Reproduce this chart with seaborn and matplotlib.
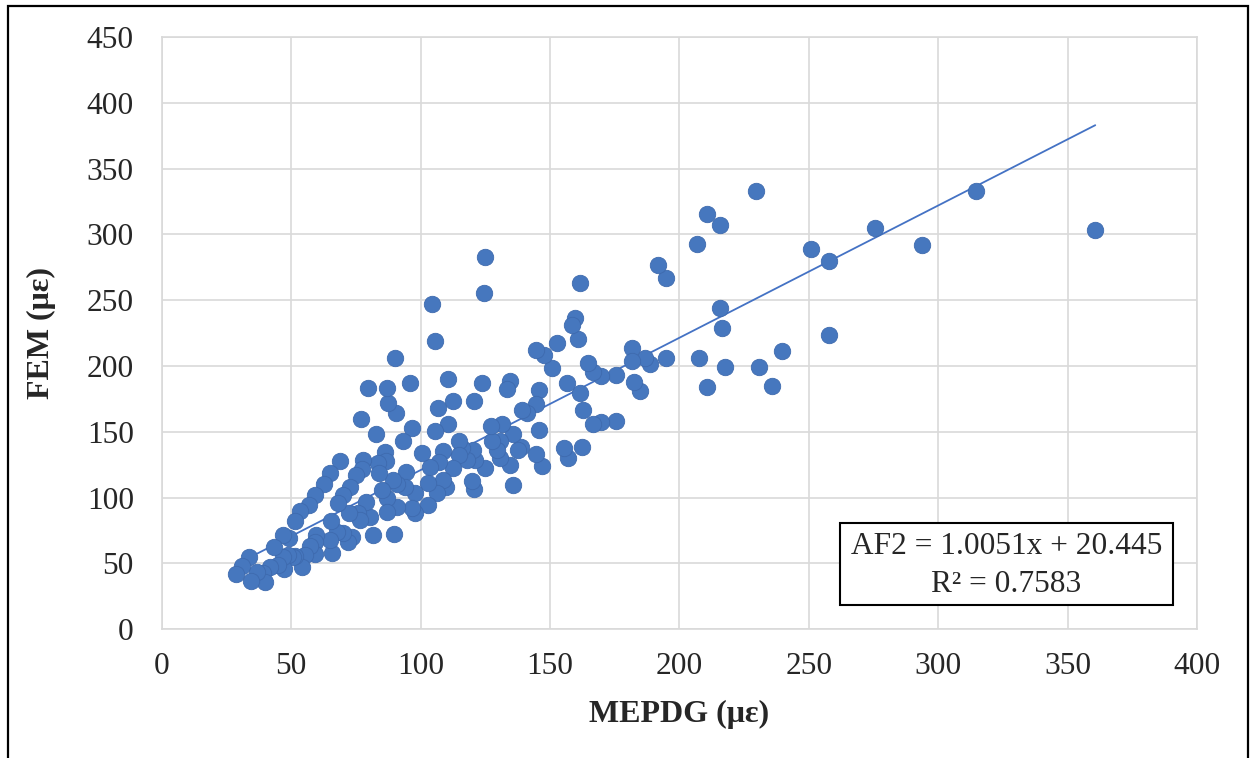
import matplotlib
matplotlib.use("Agg")
import matplotlib.pyplot as plt
import seaborn as sns
import numpy as np
import pandas as pd
from matplotlib.patches import Rectangle

# MEPDG strain (x) and FEM strain (y)
mepdg = [360.7, 314.8, 293.8, 275.7, 257.7, 257.7, 250.8, 239.7, 235.8, 230.8,
         229.8, 217.8, 216.6, 215.7, 215.7, 210.8, 210.8, 207.7, 206.8, 194.7,
         191.8, 194.7, 188.8, 186.7, 184.6, 182.6, 181.7, 181.6, 175.7, 175.7,
         169.7, 169.7, 166.8, 166.7, 164.6, 162.8, 162.5, 161.6, 161.6, 160.7,
         159.7, 158.7, 156.9, 156.6, 155.6, 152.6, 150.7, 147.7, 146.8, 145.8,
         145.8, 144.7, 144.5, 144.5, 141.0, 139.1, 138.7, 137.8, 135.9, 135.9,
         134.7, 133.5, 134.6, 131.6, 130.7, 130.7, 129.4, 127.5, 127.4, 124.9,
         124.7, 123.8, 121.1, 120.7, 120.7, 120.2, 119.8, 118.0, 115.9, 114.8,
         114.7, 112.7, 112.7, 110.7, 110.7, 109.7, 108.8, 108.6, 107.0, 106.6,
         106.3, 105.6, 105.6, 104.6, 103.7, 102.8, 102.8, 100.7, 97.9, 97.9,
         96.6, 96.6, 95.9, 94.4, 94.0, 93.4, 91.0, 90.8, 90.5, 90.1,
         89.7, 89.5, 87.6, 86.9, 86.9, 86.9, 86.3, 86.7, 85.0, 83.7,
         84.1, 82.8, 81.8, 80.5, 79.6, 79.0, 77.9, 77.5, 77.0, 76.0,
         76.6, 75.0, 73.4, 72.7, 72.3, 72.1, 70.2, 70.2, 68.8, 68.2,
         67.6, 65.5, 65.7, 65.0, 65.0, 62.6, 59.6, 59.2, 59.2, 59.2,
         57.3, 57.0, 55.4, 54.1, 53.4, 51.5, 51.5, 50.9, 49.2, 48.9,
         47.3, 47.0, 46.7, 45.1, 43.2, 41.8, 39.3, 39.9, 36.7, 34.4,
         33.8, 30.9, 28.6, 125.0]
fem = [303.6, 333.0, 292.2, 304.7, 280.0, 223.8, 288.7, 211.2, 185.1, 199.1,
       332.8, 199.1, 229.1, 243.9, 306.9, 315.8, 184.3, 206.4, 292.7, 267.1,
       276.8, 206.1, 201.8, 206.4, 181.0, 188.1, 214.0, 203.8, 193.2, 158.5,
       192.4, 157.7, 195.3, 155.7, 202.3, 166.8, 138.7, 263.1, 179.8, 220.8,
       236.7, 231.0, 130.1, 186.9, 138.0, 217.7, 198.5, 208.2, 124.3, 181.6,
       151.6, 133.4, 212.2, 171.0, 164.1, 166.6, 138.7, 136.2, 148.2, 109.9,
       188.9, 182.6, 124.8, 156.0, 143.1, 129.9, 136.2, 143.0, 154.7, 122.8,
       255.7, 186.9, 128.6, 173.5, 106.4, 136.2, 112.7, 128.5, 137.5, 143.1,
       132.5, 173.5, 122.3, 190.4, 156.0, 108.3, 113.4, 135.2, 127.0, 168.4,
       103.3, 219.0, 150.4, 246.9, 123.5, 111.0, 94.4, 133.7, 103.3, 88.1,
       152.9, 91.9, 187.4, 119.3, 108.3, 143.1, 110.2, 93.1, 164.1, 205.9,
       72.2, 113.4, 172.2, 183.6, 100.0, 89.3, 134.9, 128.1, 105.8, 126.1,
       118.7, 148.4, 71.6, 85.0, 183.6, 97.0, 128.6, 122.0, 160.0, 88.7,
       83.0, 117.2, 70.4, 108.3, 88.0, 66.6, 102.0, 72.9, 128.0, 96.3,
       74.2, 82.0, 57.7, 67.8, 118.8, 110.2, 71.6, 102.0, 66.6, 57.0,
       63.4, 94.4, 56.4, 47.0, 90.1, 82.4, 55.7, 55.2, 69.1, 56.4,
       45.7, 55.2, 71.9, 48.9, 62.8, 47.6, 42.5, 36.2, 43.8, 36.9,
       54.7, 48.1, 41.8, 283.0]

x_ticks = [0, 50, 100, 150, 200, 250, 300, 350, 400]
y_ticks = [0, 50, 100, 150, 200, 250, 300, 350, 400, 450]
slope, intercept = 1.0051, 20.445
eq_text = "AF2 = 1.0051x + 20.445"
r2_text = "R² = 0.7583"
x_label = "MEPDG (με)"
y_label = "FEM (με)"

df = pd.DataFrame({"MEPDG": mepdg, "FEM": fem})

sns.set_style("white")
plt.rcParams["font.family"] = ["Liberation Serif", "DejaVu Serif"]

fig = plt.figure(figsize=(12.51, 7.58), dpi=100)
ax = fig.add_axes([0.1293, 0.1698, 0.8275, 0.7814])

grid_c = "#D9D9D9"
ax.set_xlim(0, 400)
ax.set_ylim(0, 450)
ax.set_xticks(x_ticks)
ax.set_yticks(y_ticks)
ax.grid(True, color=grid_c, linewidth=1.2)
ax.set_axisbelow(True)
for s in ax.spines.values():
    s.set_color(grid_c)
    s.set_linewidth(1.2)

# trendline
xs = np.array([min(mepdg), max(mepdg)])
sns.lineplot(x=xs, y=slope * xs + intercept, ax=ax, color="#4472C4", linewidth=1.3, zorder=2)

sns.scatterplot(data=df, x="MEPDG", y="FEM", ax=ax, s=140, color="#4677BE",
                edgecolor="#3E6AAE", linewidth=0.6, zorder=3, legend=False)

fs = 22.6
ax.tick_params(axis="both", length=0, labelsize=fs)
ax.tick_params(axis="y", pad=20)
ax.tick_params(axis="x", pad=16)
ax.set_xlabel(x_label, fontsize=23, fontweight="bold", labelpad=14)
ax.set_ylabel(y_label, fontsize=23, fontweight="bold", labelpad=22)

# equation box
ax.add_patch(Rectangle((0.655, 0.041), 0.3215, 0.139, transform=ax.transAxes,
                       facecolor="white", edgecolor="black", linewidth=1.5, zorder=5))
ax.text(0.816, 0.1395, eq_text, transform=ax.transAxes, ha="center", va="center",
        fontsize=fs, zorder=6)
ax.text(0.816, 0.0748, r2_text, transform=ax.transAxes, ha="center", va="center",
        fontsize=fs, zorder=6)

# outer frame
fig.patches.append(Rectangle((8 / 1251, -0.02), (1248 - 8) / 1251, 1.02 - 6 / 758,
                             transform=fig.transFigure, fill=False,
                             edgecolor="black", linewidth=1.6, zorder=10))

fig.savefig("out.png", dpi=100)
